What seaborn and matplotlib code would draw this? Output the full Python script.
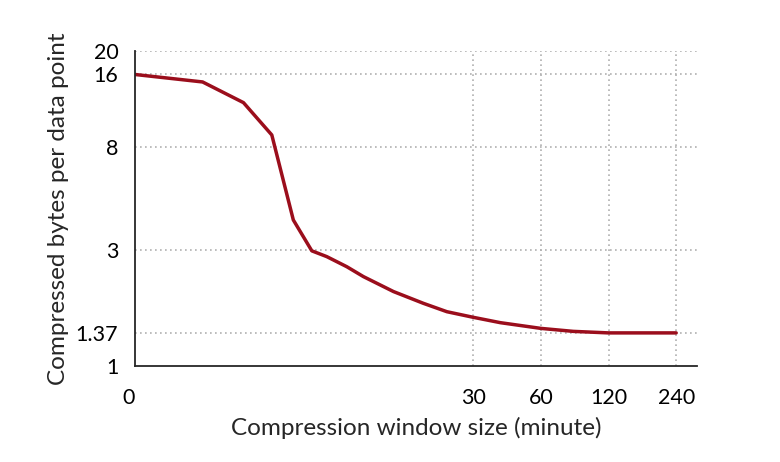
import matplotlib
matplotlib.use('Agg')
import matplotlib.pyplot as plt
import matplotlib.transforms as mtransforms
import numpy as np
import pandas as pd
import seaborn as sns

# window size in minutes (left edge of the log2 axis is labelled "0")
window_min = [0.9375, 1.875, 2.85, 3.81, 4.75, 5.74, 6.69, 8.22, 9.74,
              13.25, 18.0, 22.9, 30, 39.6, 60, 83.6, 120, 240]
bytes_per_point = [16.0, 14.9, 12.24, 9.0, 4.01, 2.99, 2.83, 2.57, 2.34,
                   2.03, 1.815, 1.676, 1.589, 1.51, 1.43, 1.39, 1.37, 1.37]

x_ticks = [0.9375, 30, 60, 120, 240]
x_ticklabels = ['0', '30', '60', '120', '240']
y_ticks = [1, 1.37, 3, 8, 16, 20]
y_ticklabels = ['1', '1.37', '3', '8', '16', '20']

df = pd.DataFrame({'window': window_min, 'bytes': bytes_per_point})

sns.set_style('white')
plt.rcParams['font.family'] = ['Lato', 'DejaVu Sans']

fig = plt.figure(figsize=(7.8, 4.62), dpi=100)
ax = fig.add_axes([0.173, 0.2078, 0.721, 0.6818])

sns.lineplot(data=df, x='window', y='bytes', ax=ax, color='#9b0e1c',
             linewidth=2.5)

ax.set_xscale('log', base=2)
ax.set_yscale('log')
ax.set_xlim(0.9375, 298)
ax.set_ylim(1, 20)

ax.set_xticks(x_ticks)
ax.set_xticklabels(x_ticklabels)
ax.set_yticks(y_ticks)
ax.set_yticklabels(y_ticklabels)
ax.minorticks_off()

ax.tick_params(axis='both', direction='in', length=9, width=1.3,
               labelsize=15.5, colors='black')
ax.tick_params(axis='x', pad=16)
ax.tick_params(axis='y', pad=12)

# the "0" label sits slightly left of the spine in the original
zero_lbl = ax.get_xticklabels()[0]
zero_lbl.set_transform(zero_lbl.get_transform() +
                       mtransforms.ScaledTranslation(-6 / 100, 0,
                                                     fig.dpi_scale_trans))

for v in y_ticks[1:]:
    ax.axhline(v, color='#b0b0b0', linestyle=(0, (1, 2)), linewidth=1.2,
               zorder=0)
for v in x_ticks[1:]:
    ax.axvline(v, color='#b0b0b0', linestyle=(0, (1, 2)), linewidth=1.2,
               zorder=0)

sns.despine(ax=ax)
ax.spines['left'].set_linewidth(1.3)
ax.spines['bottom'].set_linewidth(1.3)

ax.set_xlabel('Compression window size (minute)', fontsize=17.5, labelpad=6)
ax.set_ylabel('Compressed bytes per data point', fontsize=17.5, labelpad=5)

fig.savefig('out.png', dpi=100)
